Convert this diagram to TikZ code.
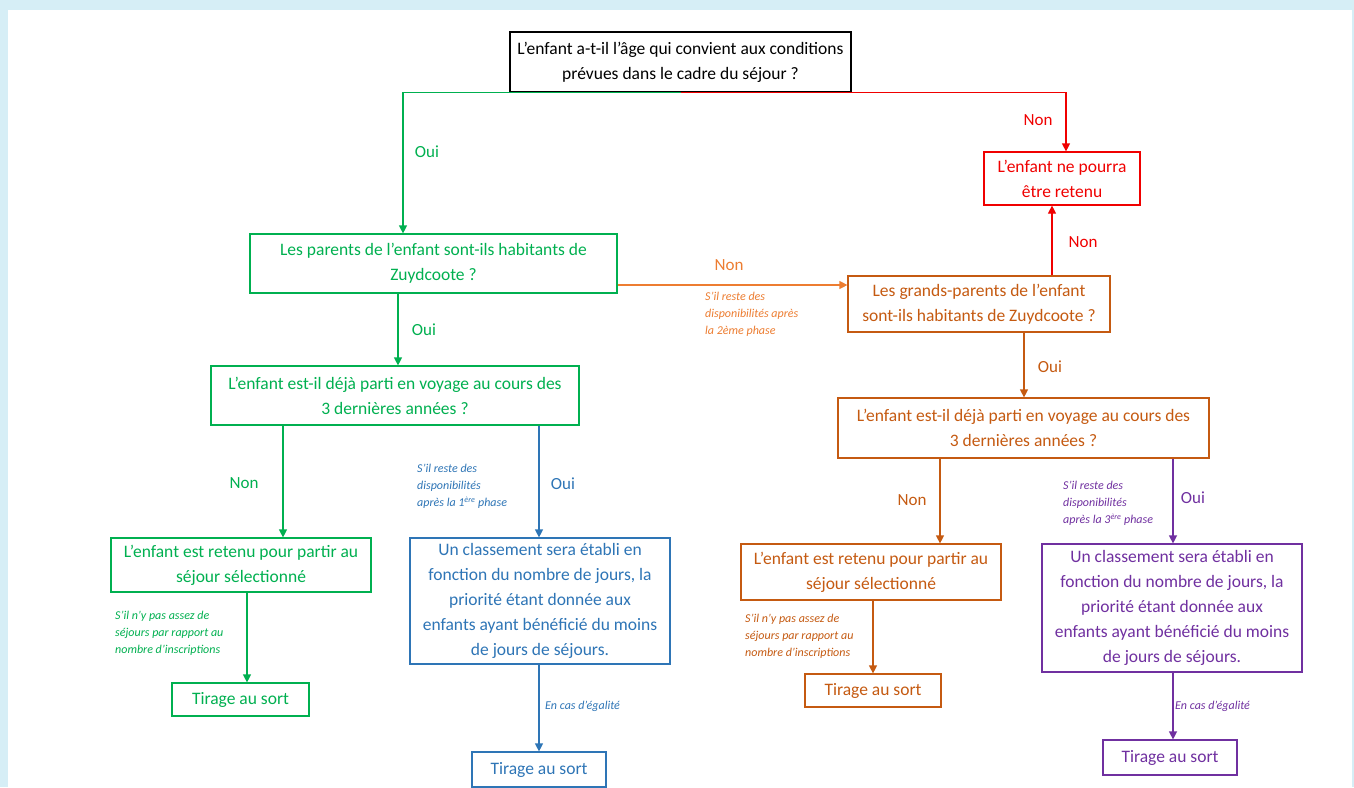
\documentclass[tikz,border=0pt]{standalone}
\usepackage{fontspec}
\setmainfont{Carlito}
\usetikzlibrary{arrows.meta}
\definecolor{cgreen}{HTML}{00B050}
\definecolor{cred}{HTML}{F00000}
\definecolor{corange}{HTML}{C55A11}
\definecolor{corangel}{HTML}{ED7D31}
\definecolor{cblue}{HTML}{2E75B6}
\definecolor{cpurple}{HTML}{7030A0}
\definecolor{cbg}{HTML}{D6EEF6}
\begin{document}
\begin{tikzpicture}[x=1pt,y=-1pt,
 box/.style={draw=#1,text=#1,line width=1.2pt,align=center,inner sep=0pt,font=\fontsize{17.5}{25}\selectfont},
 arr/.style={draw=#1,line width=1.2pt,-{Triangle[length=8pt,width=8pt]}},
 lab/.style={text=#1,font=\fontsize{17}{18}\selectfont,inner sep=0pt},
 note/.style={text=#1,font=\fontsize{12}{17}\selectfont\itshape,align=left,inner sep=0pt,anchor=north west},
]
\useasboundingbox (0,0) rectangle (1354,787);
\fill[cbg] (0,0) rectangle (1354,787);
\fill[white] (8,10) rectangle (1352,787);

% boxes
\node[box=black, minimum width=341, minimum height=60] (top) at (680.5,62) {L’enfant a-t-il l’âge qui convient aux conditions\\prévues dans le cadre du séjour ?};
\node[box=cred, minimum width=156, minimum height=53] (reject) at (1062,178.5) {L’enfant ne pourra\\être retenu};
\node[box=cgreen, minimum width=367, minimum height=59] (parents) at (433.5,263.5) {Les parents de l’enfant sont-ils habitants de\\Zuydcoote ?};
\node[box=corange, minimum width=262, minimum height=56] (grand) at (979,304) {Les grands-parents de l’enfant\\sont-ils habitants de Zuydcoote ?};
\node[box=cgreen, minimum width=368, minimum height=59] (voyG) at (395,395.5) {L’enfant est-il déjà parti en voyage au cours des\\3 dernières années ?};
\node[box=corange, minimum width=371, minimum height=60] (voyO) at (1023.5,428) {L’enfant est-il déjà parti en voyage au cours des\\3 dernières années ?};
\node[box=cgreen, minimum width=260, minimum height=54] (retG) at (241,565) {L’enfant est retenu pour partir au\\séjour sélectionné};
\node[box=cgreen, minimum width=137, minimum height=33] (tirG) at (240.5,699.5) {Tirage au sort};
\node[box=cblue, minimum width=260, minimum height=126] (classB) at (540,601) {Un classement sera établi en\\fonction du nombre de jours, la\\priorité étant donnée aux\\enfants ayant bénéficié du moins\\de jours de séjours.};
\node[box=cblue, minimum width=134, minimum height=35] (tirB) at (539,769.5) {Tirage au sort};
\node[box=corange, minimum width=260, minimum height=56] (retO) at (871,572) {L’enfant est retenu pour partir au\\séjour sélectionné};
\node[box=corange, minimum width=136, minimum height=33] (tirO) at (873,690.5) {Tirage au sort};
\node[box=cpurple, minimum width=260, minimum height=128] (classP) at (1172,608) {Un classement sera établi en\\fonction du nombre de jours, la\\priorité étant donnée aux\\enfants ayant bénéficié du moins\\de jours de séjours.};
\node[box=cpurple, minimum width=134, minimum height=35] (tirP) at (1170,757.5) {Tirage au sort};

% connectors
\draw[arr=cgreen] (top.south) -| ([xshift=-30.5]parents.north);
\draw[arr=cred] (top.south) -| ([xshift=4]reject.north);
\draw[arr=corangel] ([yshift=-21.5]parents.east) -- ([yshift=19]grand.west);
\draw[arr=cred] ([xshift=73]grand.north) -- ([xshift=-10]reject.south);
\draw[arr=cgreen] ([xshift=-35.5]parents.south) -- ([xshift=3]voyG.north);
\draw[arr=cgreen] ([xshift=-112]voyG.south) -- ([xshift=42]retG.north);
\draw[arr=cblue] ([xshift=144]voyG.south) -- ([xshift=-1]classB.north);
\draw[arr=cgreen] ([xshift=6]retG.south) -- ([xshift=6.5]tirG.north);
\draw[arr=cblue] ([xshift=-1]classB.south) -- (tirB.north);
\draw[arr=corange] ([xshift=45]grand.south) -- ([xshift=0.5]voyO.north);
\draw[arr=corange] ([xshift=-83.5]voyO.south) -- ([xshift=69]retO.north);
\draw[arr=cpurple] ([xshift=149.5]voyO.south) -- ([xshift=1]classP.north);
\draw[arr=corange] ([xshift=2]retO.south) -- (tirO.north);
\draw[arr=cpurple] ([xshift=1]classP.south) -- ([xshift=3]tirP.north);

% labels
\node[lab=cgreen] (oui1) at (427,152) {Oui};
\node[lab=cred] (non1) at (1038,120) {Non};
\node[lab=corangel] (non2) at (729,265) {Non};
\node[lab=cred] (non3) at (1083,242) {Non};
\node[lab=cgreen] (oui2) at (424,330) {Oui};
\node[lab=cgreen] (non4) at (244,483) {Non};
\node[lab=cblue] (oui3) at (563,484) {Oui};
\node[lab=corange] (oui4) at (1050,367) {Oui};
\node[lab=corange] (non5) at (912,500) {Non};
\node[lab=cpurple] (oui5) at (1193,498) {Oui};

% notes
\node[note=corangel] (n1) at (705,292) {S’il reste des\\disponibilités après\\la 2ème phase};
\node[note=cblue] (n2) at (417,464) {S’il reste des\\disponibilités\\après la 1\textsuperscript{ère} phase};
\node[note=cgreen] (n3) at (115,611) {S’il n’y pas assez de\\séjours par rapport au\\nombre d’inscriptions};
\node[note=corange] (n4) at (745,614) {S’il n’y pas assez de\\séjours par rapport au\\nombre d’inscriptions};
\node[note=cpurple] (n5) at (1063,481) {S’il reste des\\disponibilités\\après la 3\textsuperscript{ère} phase};
\node[note=cblue] (n6) at (545,701) {En cas d’égalité};
\node[note=cpurple] (n7) at (1175,701) {En cas d’égalité};
\end{tikzpicture}
\end{document}
